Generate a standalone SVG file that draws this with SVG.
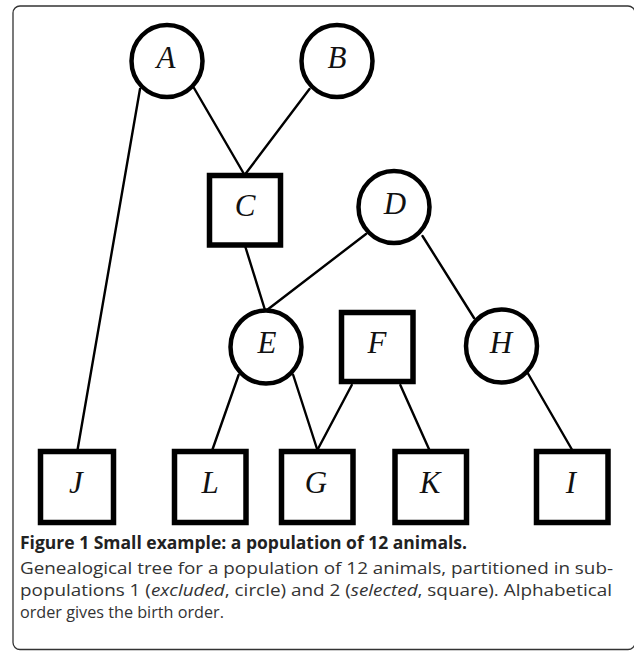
<svg xmlns="http://www.w3.org/2000/svg" width="634" height="651" viewBox="0 0 634 651">
<style>
.frame{fill:#fff;stroke:#333;stroke-width:1.3}
.edge{stroke:#000;stroke-width:2.4;stroke-linecap:round;fill:none}
.circ{fill:#fff;stroke:#000;stroke-width:4.5}
.sq{fill:#fff;stroke:#000;stroke-width:5.5}
.lbl{font-family:"Liberation Serif","Times New Roman",serif;font-style:italic;font-size:31px;text-anchor:middle;fill:#111}
.title{font-family:"Open Sans","Noto Sans",sans-serif;font-weight:bold;font-size:17.5px;fill:#222}
.body{font-family:"Open Sans","Noto Sans",sans-serif;font-size:17px;fill:#333}
</style>
<rect class="frame" x="13" y="6" width="622" height="643.5" rx="7"/>
<g id="connectors">
<line class="edge" x1="140" y1="89" x2="77.5" y2="450"/>
<line class="edge" x1="194" y1="88" x2="244.6" y2="175"/>
<line class="edge" x1="309.5" y1="89" x2="244.6" y2="175"/>
<line class="edge" x1="245.4" y1="247" x2="265" y2="310"/>
<line class="edge" x1="366" y1="234" x2="267" y2="310"/>
<line class="edge" x1="422.5" y1="236" x2="474" y2="318"/>
<line class="edge" x1="238.6" y1="375" x2="212.3" y2="450"/>
<line class="edge" x1="293.2" y1="375" x2="317.4" y2="450"/>
<line class="edge" x1="351.8" y1="385" x2="317.4" y2="450"/>
<line class="edge" x1="400.3" y1="385" x2="429.4" y2="450"/>
<line class="edge" x1="527.7" y1="373" x2="572.2" y2="450"/>
</g>
<g id="node-A"><ellipse class="circ" cx="167" cy="61" rx="35.5" ry="36"/><text class="lbl" x="166" y="68">A</text></g>
<g id="node-B"><ellipse class="circ" cx="337" cy="61" rx="35.5" ry="36"/><text class="lbl" x="337" y="68">B</text></g>
<g id="node-C"><rect class="sq" x="209.5" y="175.5" width="71" height="69.5"/><text class="lbl" x="245" y="216">C</text></g>
<g id="node-D"><ellipse class="circ" cx="394" cy="207" rx="35.5" ry="36"/><text class="lbl" x="395" y="214">D</text></g>
<g id="node-E"><ellipse class="circ" cx="266" cy="347" rx="35.5" ry="36.5"/><text class="lbl" x="267" y="353">E</text></g>
<g id="node-F"><rect class="sq" x="341.5" y="312.5" width="71.5" height="69"/><text class="lbl" x="377" y="353">F</text></g>
<g id="node-H"><ellipse class="circ" cx="501.5" cy="346" rx="35.5" ry="36.5"/><text class="lbl" x="501" y="353">H</text></g>
<g id="node-J"><rect class="sq" x="40.5" y="451.5" width="73" height="71"/><text class="lbl" x="76" y="493">J</text></g>
<g id="node-L"><rect class="sq" x="174.5" y="451.5" width="71.5" height="71"/><text class="lbl" x="210" y="493">L</text></g>
<g id="node-G"><rect class="sq" x="281.5" y="451.5" width="71.5" height="71"/><text class="lbl" x="316" y="493">G</text></g>
<g id="node-K"><rect class="sq" x="395" y="451.5" width="71.5" height="71"/><text class="lbl" x="430" y="493">K</text></g>
<g id="node-I"><rect class="sq" x="536.5" y="451.5" width="71.5" height="71"/><text class="lbl" x="571" y="493">I</text></g>
<text class="title" x="20" y="549" textLength="447" lengthAdjust="spacingAndGlyphs">Figure 1 Small example: a population of 12 animals.</text>
<text class="body" x="20" y="574" textLength="593" lengthAdjust="spacingAndGlyphs">Genealogical tree for a population of 12 animals, partitioned in sub-</text>
<text class="body" x="20" y="596" textLength="592" lengthAdjust="spacingAndGlyphs">populations 1 (<tspan font-style="italic">excluded</tspan>, circle) and 2 (<tspan font-style="italic">selected</tspan>, square). Alphabetical</text>
<text class="body" x="20" y="618" textLength="204" lengthAdjust="spacingAndGlyphs">order gives the birth order.</text>
</svg>
